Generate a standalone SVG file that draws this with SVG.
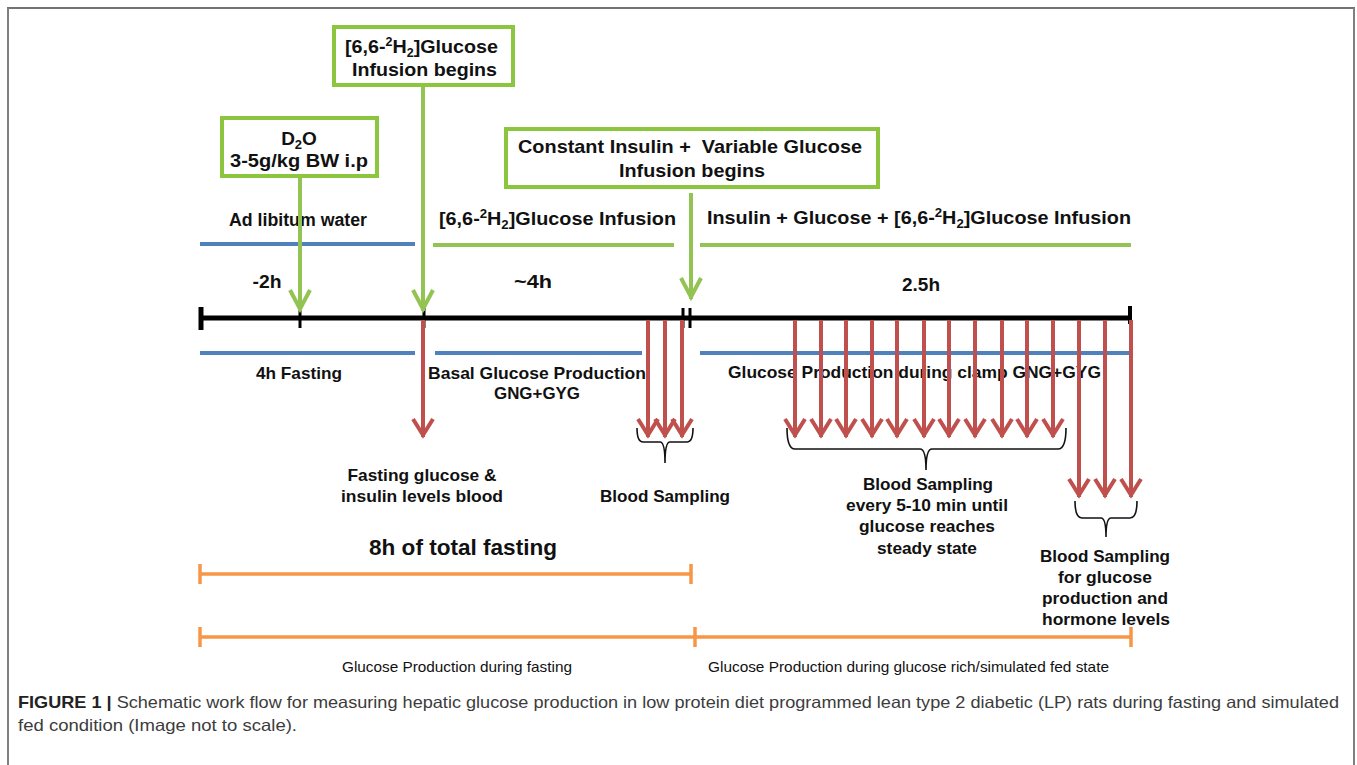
<svg xmlns="http://www.w3.org/2000/svg" width="1357" height="765" viewBox="0 0 1357 765">
<style>
.t{font-family:"Liberation Sans",Arial,Helvetica,sans-serif;font-weight:bold;fill:#111}
.r{font-family:"Liberation Sans",Arial,Helvetica,sans-serif;fill:#111}
.cap{font-family:"Liberation Sans",Arial,Helvetica,sans-serif;fill:#3c3c3c;font-size:16.5px}
.box{fill:#fff;stroke:#8CC63F;stroke-width:4}
.g{stroke:#93C352;stroke-width:4;fill:none}
.bl{stroke:#4F81BD;stroke-width:4;fill:none}
.rd{stroke:#C0504D;stroke-width:4;fill:none}
.or{stroke:#F79646;stroke-width:3.5;fill:none}
.ax{stroke:#000;stroke-width:5;fill:none}
.tk{stroke:#000;stroke-width:3;fill:none}
.br{stroke:#111;stroke-width:1.6;fill:none}
</style>
<defs>
<marker id="gA" markerUnits="userSpaceOnUse" viewBox="-30 -15 35 30" markerWidth="35" markerHeight="30" refX="0" refY="0" orient="auto" overflow="visible">
<path d="M-21,-10 L-2,0 L-21,10" fill="none" stroke="#93C352" stroke-width="4"/>
</marker>
<marker id="rA" markerUnits="userSpaceOnUse" viewBox="-30 -15 35 30" markerWidth="35" markerHeight="30" refX="0" refY="0" orient="auto" overflow="visible">
<path d="M-18,-10 L-2,0 L-18,10" fill="none" stroke="#C0504D" stroke-width="4"/>
</marker>
</defs>
<rect width="1357" height="765" fill="#fff"/>
<g id="frame">
<line x1="7" y1="8" x2="1355" y2="8" stroke="#444" stroke-width="1.6"/>
<line x1="8" y1="8" x2="8" y2="765" stroke="#808080" stroke-width="2"/>
<line x1="1354" y1="8" x2="1354" y2="765" stroke="#808080" stroke-width="2"/>
</g>

<g id="timeline">
<line class="ax" x1="200" y1="318" x2="1131" y2="318"/>
<line stroke="#000" stroke-width="5" x1="201" y1="307" x2="201" y2="330"/>
<line stroke="#000" stroke-width="4" x1="1130" y1="306" x2="1130" y2="324"/>
<line class="tk" x1="300" y1="308" x2="300" y2="328"/>
<line class="tk" x1="424" y1="308" x2="424" y2="328"/>
<line class="tk" x1="683" y1="308" x2="683" y2="328"/>
<line class="tk" x1="690" y1="308" x2="690" y2="328"/>
<text class="t" x="267" y="288" font-size="19" text-anchor="middle" textLength="29" lengthAdjust="spacingAndGlyphs">-2h</text>
<text class="t" x="533" y="288" font-size="19" text-anchor="middle" textLength="38" lengthAdjust="spacingAndGlyphs">~4h</text>
<text class="t" x="921" y="291" font-size="19" text-anchor="middle" textLength="38" lengthAdjust="spacingAndGlyphs">2.5h</text>
</g>

<g id="d2o-box">
<rect class="box" x="222" y="118" width="155" height="58"/>
<text class="t" x="299" y="145" font-size="19" text-anchor="middle">D<tspan font-size="13" dy="4">2</tspan><tspan dy="-4">O</tspan></text>
<text class="t" x="299" y="167" font-size="19" text-anchor="middle" textLength="138" lengthAdjust="spacingAndGlyphs">3-5g/kg BW i.p</text>
</g>

<g id="glucose-box">
<rect class="box" x="334" y="27" width="179" height="58"/>
<text class="t" x="345" y="53" font-size="19" textLength="153" lengthAdjust="spacingAndGlyphs">[6,6-<tspan font-size="12" dy="-7">2</tspan><tspan dy="7">H</tspan><tspan font-size="12" dy="4">2</tspan><tspan dy="-4">]Glucose</tspan></text>
<text class="t" x="352" y="76" font-size="19" textLength="145" lengthAdjust="spacingAndGlyphs">Infusion begins</text>
</g>

<g id="insulin-box">
<rect class="box" x="506" y="129" width="372" height="58"/>
<text class="t" x="518" y="153" font-size="19" textLength="344" lengthAdjust="spacingAndGlyphs" xml:space="preserve">Constant Insulin +  Variable Glucose</text>
<text class="t" x="619" y="177" font-size="19" textLength="146" lengthAdjust="spacingAndGlyphs">Infusion begins</text>
</g>

<g id="phase-top">
<line class="bl" x1="200" y1="244" x2="415" y2="244"/>
<text class="t" x="229" y="226" font-size="18" textLength="138" lengthAdjust="spacingAndGlyphs">Ad libitum water</text>
<line class="g" x1="433" y1="245" x2="674" y2="245"/>
<text class="t" x="439" y="225" font-size="18" textLength="237" lengthAdjust="spacingAndGlyphs">[6,6-<tspan font-size="12" dy="-7">2</tspan><tspan dy="7">H</tspan><tspan font-size="12" dy="4">2</tspan><tspan dy="-4">]Glucose Infusion</tspan></text>
<line class="g" x1="700" y1="245" x2="1131" y2="245"/>
<text class="t" x="707" y="224" font-size="18" textLength="424" lengthAdjust="spacingAndGlyphs">Insulin + Glucose + [6,6-<tspan font-size="12" dy="-7">2</tspan><tspan dy="7">H</tspan><tspan font-size="12" dy="4">2</tspan><tspan dy="-4">]Glucose Infusion</tspan></text>
</g>

<g id="phase-bottom">
<line class="bl" x1="200" y1="353" x2="415" y2="353"/>
<text class="t" x="256" y="379" font-size="17" textLength="86" lengthAdjust="spacingAndGlyphs">4h Fasting</text>
<line class="bl" x1="435" y1="353" x2="642" y2="353"/>
<text class="t" x="428" y="379" font-size="17" textLength="218" lengthAdjust="spacingAndGlyphs">Basal Glucose Production</text>
<text class="t" x="537" y="399" font-size="17" text-anchor="middle" textLength="86" lengthAdjust="spacingAndGlyphs">GNG+GYG</text>
<line class="bl" x1="700" y1="353" x2="1129" y2="353"/>
<text class="t" x="728" y="378" font-size="17" textLength="373" lengthAdjust="spacingAndGlyphs">Glucose Production during clamp GNG+GYG</text>
</g>

<g id="fasting-sample">
<text class="t" x="422" y="481" font-size="17" text-anchor="middle" textLength="149" lengthAdjust="spacingAndGlyphs">Fasting glucose &amp;</text>
<text class="t" x="422" y="502" font-size="17" text-anchor="middle" textLength="162" lengthAdjust="spacingAndGlyphs">insulin levels blood</text>
</g>

<g id="basal-sampling">
<path class="br" d="M637,428 Q637,442 643,442 L660,442 Q665,442 665,463 Q665,442 670,442 L687,442 Q693,442 693,428"/>
<text class="t" x="665" y="502" font-size="17" text-anchor="middle" textLength="130" lengthAdjust="spacingAndGlyphs">Blood Sampling</text>
</g>

<g id="clamp-sampling">
<path class="br" d="M787,428 Q787,449 795,449 L920,449 Q926,449 926,470 Q926,449 932,449 L1058,449 Q1066,449 1066,428"/>
<text class="t" x="928" y="490" font-size="17" text-anchor="middle" textLength="130" lengthAdjust="spacingAndGlyphs">Blood Sampling</text>
<text class="t" x="927" y="511" font-size="17" text-anchor="middle" textLength="162" lengthAdjust="spacingAndGlyphs">every 5-10 min until</text>
<text class="t" x="927" y="532" font-size="17" text-anchor="middle" textLength="136" lengthAdjust="spacingAndGlyphs">glucose reaches</text>
<text class="t" x="927" y="554" font-size="17" text-anchor="middle" textLength="100" lengthAdjust="spacingAndGlyphs">steady state</text>
</g>

<g id="final-sampling">
<path class="br" d="M1075,501 Q1075,518 1082,518 L1101,518 Q1106,518 1106,537 Q1106,518 1111,518 L1130,518 Q1137,518 1137,501"/>
<text class="t" x="1105" y="562" font-size="17" text-anchor="middle" textLength="130" lengthAdjust="spacingAndGlyphs">Blood Sampling</text>
<text class="t" x="1105" y="583" font-size="17" text-anchor="middle" textLength="94" lengthAdjust="spacingAndGlyphs">for glucose</text>
<text class="t" x="1105" y="604" font-size="17" text-anchor="middle" textLength="126" lengthAdjust="spacingAndGlyphs">production and</text>
<text class="t" x="1106" y="625" font-size="17" text-anchor="middle" textLength="128" lengthAdjust="spacingAndGlyphs">hormone levels</text>
</g>

<g id="total-fasting">
<text class="t" x="463" y="555" font-size="22" text-anchor="middle" textLength="188" lengthAdjust="spacingAndGlyphs">8h of total fasting</text>
<line class="or" x1="200" y1="574" x2="691" y2="574"/>
<line class="or" x1="200" y1="564" x2="200" y2="584"/>
<line class="or" x1="691" y1="564" x2="691" y2="584"/>
</g>

<g id="production-bar">
<line class="or" x1="200" y1="637" x2="1131" y2="637"/>
<line class="or" x1="200" y1="627" x2="200" y2="647"/>
<line class="or" x1="695" y1="627" x2="695" y2="647"/>
<line class="or" x1="1131" y1="627" x2="1131" y2="647"/>
<text class="r" x="342" y="672" font-size="15" textLength="230" lengthAdjust="spacingAndGlyphs">Glucose Production during fasting</text>
<text class="r" x="708" y="672" font-size="15" textLength="401" lengthAdjust="spacingAndGlyphs">Glucose Production during glucose rich/simulated fed state</text>
</g>

<g id="connectors">
<line class="g" x1="300" y1="178" x2="300" y2="311" marker-end="url(#gA)"/>
<line class="g" x1="423" y1="87" x2="423" y2="311" marker-end="url(#gA)"/>
<line class="g" x1="691" y1="193" x2="691" y2="299" marker-end="url(#gA)"/>
<line class="rd" x1="423" y1="320" x2="423" y2="437" marker-end="url(#rA)"/>
<line class="rd" x1="648" y1="320" x2="648" y2="437" marker-end="url(#rA)"/>
<line class="rd" x1="665" y1="320" x2="665" y2="437" marker-end="url(#rA)"/>
<line class="rd" x1="682" y1="320" x2="682" y2="437" marker-end="url(#rA)"/>
<line class="rd" x1="795" y1="320" x2="795" y2="437" marker-end="url(#rA)"/>
<line class="rd" x1="821" y1="320" x2="821" y2="437" marker-end="url(#rA)"/>
<line class="rd" x1="846" y1="320" x2="846" y2="437" marker-end="url(#rA)"/>
<line class="rd" x1="872" y1="320" x2="872" y2="437" marker-end="url(#rA)"/>
<line class="rd" x1="897" y1="320" x2="897" y2="437" marker-end="url(#rA)"/>
<line class="rd" x1="924" y1="320" x2="924" y2="437" marker-end="url(#rA)"/>
<line class="rd" x1="949" y1="320" x2="949" y2="437" marker-end="url(#rA)"/>
<line class="rd" x1="975" y1="320" x2="975" y2="437" marker-end="url(#rA)"/>
<line class="rd" x1="1002" y1="320" x2="1002" y2="437" marker-end="url(#rA)"/>
<line class="rd" x1="1027" y1="320" x2="1027" y2="437" marker-end="url(#rA)"/>
<line class="rd" x1="1053" y1="320" x2="1053" y2="437" marker-end="url(#rA)"/>
<line class="rd" x1="1079" y1="320" x2="1079" y2="497" marker-end="url(#rA)"/>
<line class="rd" x1="1105" y1="320" x2="1105" y2="497" marker-end="url(#rA)"/>
<line class="rd" x1="1131" y1="320" x2="1131" y2="497" marker-end="url(#rA)"/>
</g>

<g id="caption">
<text class="cap" x="18" y="708" textLength="1321" lengthAdjust="spacingAndGlyphs"><tspan font-weight="bold" fill="#222">FIGURE 1 |</tspan> Schematic work flow for measuring hepatic glucose production in low protein diet programmed lean type 2 diabetic (LP) rats during fasting and simulated</text>
<text class="cap" x="18" y="731" textLength="279" lengthAdjust="spacingAndGlyphs">fed condition (Image not to scale).</text>
</g>
</svg>
